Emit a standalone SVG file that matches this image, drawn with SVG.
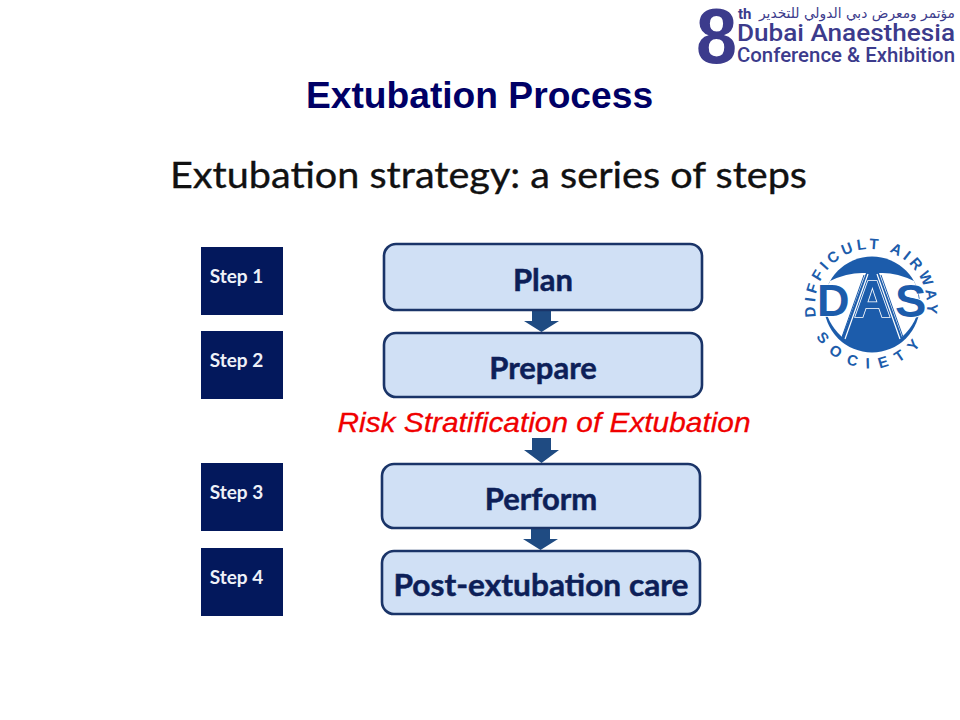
<svg xmlns="http://www.w3.org/2000/svg" width="960" height="720" viewBox="0 0 960 720">
<style>
.step{fill:#03185c}
.steptxt{font:bold 19px Lato,"Liberation Sans",sans-serif;fill:#eef1f8;text-anchor:middle}
.box{fill:#d0e0f5;stroke:#1a3468;stroke-width:2.6}
.boxtxt{font:bold 31px Lato,"Liberation Sans",sans-serif;fill:#0d1f58;stroke:#0d1f58;stroke-width:.5;text-anchor:middle}
.arrow{fill:#1f4b82}
.das{font-family:"Liberation Sans",Arial,sans-serif;font-weight:bold;fill:#1c5cab}
.big{stroke:#fff;stroke-width:1.600;paint-order:stroke}
.logo{font-family:Roboto,sans-serif;font-weight:500;fill:#3c3b8c}
</style>
<rect width="960" height="720" fill="#fff"/>
<text x="479.500" y="108" text-anchor="middle" font-family="Liberation Sans,sans-serif" font-weight="bold" font-size="37.200" fill="#000066">Extubation Process</text>
<text x="488.500" y="188" text-anchor="middle" font-family="Lato,sans-serif" font-size="37" fill="#111" stroke="#111" stroke-width=".35" textLength="637" lengthAdjust="spacingAndGlyphs">Extubation strategy: a series of steps</text>

<g id="logo-conference">
<text class="logo" x="696" y="63" font-size="78" style="font-family:'Liberation Sans',sans-serif;font-weight:bold" textLength="41" lengthAdjust="spacingAndGlyphs">8</text>
<text class="logo" x="738" y="19" style="font-weight:bold" font-size="15">th</text>
<text class="logo" x="955" y="18" text-anchor="end" font-size="14" style="font-family:'DejaVu Sans',sans-serif;font-weight:normal" textLength="196" lengthAdjust="spacingAndGlyphs">مؤتمر ومعرض دبي الدولي للتخدير</text>
<text class="logo" x="737" y="41" font-size="24.500" textLength="218" lengthAdjust="spacingAndGlyphs">Dubai Anaesthesia</text>
<text class="logo" x="737" y="62" font-size="19.500" textLength="218" lengthAdjust="spacingAndGlyphs">Conference &amp; Exhibition</text>
</g>

<g id="logo-das">
<defs>
<path id="das-top" d="M822.500 333A56 56 0 1 1 919.500 333"/>
<path id="das-bot" d="M810 321A63 63 0 0 0 932 321"/>
</defs>
<circle cx="872" cy="304.500" r="48" fill="#1c5cab"/>
<path d="M830 281Q848 272 866 273L842 337Q826 322 825 304Q825 292 830 281Z" fill="#fff"/>
<path d="M914 281Q896 272 879 273L902 337Q918 322 919 304Q919 292 914 281Z" fill="#fff"/>
<path d="M864 275L842 337" fill="none" stroke="#1c5cab" stroke-width="1"/>
<path d="M881 275L903 337" fill="none" stroke="#1c5cab" stroke-width="1"/>
<path d="M868 274L845 339M877 274L900 339" fill="none" stroke="#fff" stroke-width="1.200"/>
<text class="das big" x="817" y="316" font-size="45">D</text>
<text class="das big" x="872.500" y="317" font-size="51" text-anchor="middle">A</text>
<text class="das big" x="895" y="317" font-size="47">S</text>
<text class="das" font-size="15"><textPath href="#das-top" startOffset="50%" text-anchor="middle" letter-spacing="3.800">DIFFICULT AIRWAY</textPath></text>
<text class="das" font-size="15"><textPath href="#das-bot" startOffset="50%" text-anchor="middle" letter-spacing="9.500">SOCIETY</textPath></text>
</g>

<g id="step-1"><rect class="step" x="201" y="247" width="82" height="68"/><text class="steptxt" x="236.500" y="283">Step 1</text></g>
<g id="step-2"><rect class="step" x="201" y="331" width="82" height="68"/><text class="steptxt" x="236.500" y="367">Step 2</text></g>
<g id="step-3"><rect class="step" x="201" y="463" width="82" height="68"/><text class="steptxt" x="236.500" y="499">Step 3</text></g>
<g id="step-4"><rect class="step" x="201" y="548" width="82" height="68"/><text class="steptxt" x="236.500" y="584">Step 4</text></g>

<g id="connectors">
<path class="arrow" d="M532 311H551V321H559L541.500 332L524 321H532Z"/>
<path class="arrow" d="M532 438H551V450H559L541.500 463L524 450H532Z"/>
<path class="arrow" d="M531 528H550V539H558L540.500 550L523 539H531Z"/>
</g>

<g id="node-plan"><rect class="box" x="384" y="244" width="318" height="66" rx="12"/><text class="boxtxt" x="543" y="291">Plan</text></g>
<g id="node-prepare"><rect class="box" x="384" y="333" width="318" height="64" rx="12"/><text class="boxtxt" x="543" y="379">Prepare</text></g>
<text id="risk-label" x="544" y="432" text-anchor="middle" font-family="Liberation Sans,sans-serif" font-style="italic" font-size="28.500" fill="#f00000" stroke="#f00000" stroke-width=".3" textLength="413" lengthAdjust="spacingAndGlyphs">Risk Stratification of Extubation</text>
<g id="node-perform"><rect class="box" x="382" y="464" width="318" height="64" rx="12"/><text class="boxtxt" x="541" y="510">Perform</text></g>
<g id="node-post"><rect class="box" x="382" y="551" width="318" height="63" rx="12"/><text class="boxtxt" x="541" y="596" textLength="295" lengthAdjust="spacingAndGlyphs">Post-extubation care</text></g>
</svg>
